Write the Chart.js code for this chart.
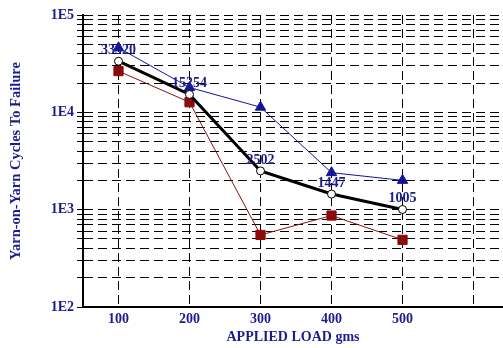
<!DOCTYPE html>
<html>
<head>
<meta charset="utf-8">
<script src="https://cdn.jsdelivr.net/npm/chart.js@4.4.0/dist/chart.umd.min.js"></script>
<style>
  html, body { margin: 0; padding: 0; background: #fff; }
  #wrap { width: 503px; height: 348px; }
</style>
</head>
<body>
<div id="wrap"><canvas id="chart"></canvas></div>
<script>
// --- data ---
const loads = [100, 200, 300, 400, 500];
const meanCycles = [33520, 15254, 2502, 1447, 1005];
const upperCycles = [46000, 18000, 11300, 2400, 2000];
const lowerCycles = [26500, 12700, 550, 870, 490];
const xTicks = [100, 200, 300, 400, 500, 600];
const xLabels = ['100', '200', '300', '400', '500', ''];
const yDecades = [100, 1000, 10000, 100000];
const yLabels = ['1E2', '1E3', '1E4', '1E5'];

const NAVY = '#1c1c8c';
const FONT = '"Liberation Serif", "Times New Roman", serif';

const pairs = vals => loads.map((x, i) => ({ x, y: vals[i] }));

// minor grid lines 2..9 inside every decade
const yTicks = [];
yDecades.forEach((d, i) => {
  yTicks.push(d);
  if (i < yDecades.length - 1) for (let m = 2; m <= 9; m++) yTicks.push(d * m);
});

// labels above the mean line
const pointLabels = {
  id: 'pointLabels',
  afterDatasetsDraw(chart) {
    const ctx = chart.ctx;
    const meta = chart.getDatasetMeta(0);
    ctx.save();
    ctx.font = 'bold 14px ' + FONT;
    ctx.fillStyle = NAVY;
    ctx.textAlign = 'center';
    ctx.textBaseline = 'alphabetic';
    meta.data.forEach((pt, i) => ctx.fillText(String(meanCycles[i]), pt.x, pt.y - 7));
    ctx.restore();
  }
};

new Chart(document.getElementById('chart'), {
  type: 'line',
  data: {
    datasets: [
      {
        label: 'mean',
        data: pairs(meanCycles),
        borderColor: '#000',
        borderWidth: 3,
        pointStyle: 'circle',
        pointRadius: 4,
        pointBackgroundColor: '#fff',
        pointBorderColor: '#000',
        pointBorderWidth: 1
      },
      {
        label: 'upper',
        data: pairs(upperCycles),
        borderColor: '#14149a',
        borderWidth: 1,
        pointStyle: 'triangle',
        pointRadius: 6,
        pointBackgroundColor: '#14149a',
        pointBorderColor: '#14149a'
      },
      {
        label: 'lower',
        data: pairs(lowerCycles),
        borderColor: '#8b1010',
        borderWidth: 1,
        pointStyle: 'rect',
        pointRadius: 6.5,
        pointBackgroundColor: '#8b0a0a',
        pointBorderColor: '#8b0a0a'
      }
    ]
  },
  options: {
    responsive: true,
    maintainAspectRatio: false,
    animation: false,
    layout: { autoPadding: false, padding: { top: 15, left: 0, right: 0, bottom: 0 } },
    plugins: {
      legend: { display: false },
      tooltip: { enabled: false }
    },
    scales: {
      x: {
        type: 'linear',
        min: 50,
        max: 641.5,
        afterBuildTicks: s => { s.ticks = xTicks.map(v => ({ value: v })); },
        afterFit: s => { s.height = 41; s.paddingLeft = 0; s.paddingRight = 0; },
        ticks: {
          color: NAVY,
          font: { family: FONT, size: 14, weight: 'bold' },
          padding: 4,
          maxRotation: 0,
          autoSkip: false,
          callback: (v, i) => xLabels[i]
        },
        grid: { color: '#000', lineWidth: 1, drawTicks: false },
        border: { display: true, color: '#000', width: 2, dash: [9, 5] },
        title: {
          display: true,
          text: 'APPLIED LOAD gms',
          color: NAVY,
          font: { family: FONT, size: 14, weight: 'bold' },
          padding: { top: 2, bottom: 2 }
        }
      },
      y: {
        type: 'logarithmic',
        min: 100,
        max: 100000,
        afterBuildTicks: s => { s.ticks = yTicks.map(v => ({ value: v })); },
        afterFit: s => { s.width = 83; },
        ticks: {
          color: NAVY,
          font: { family: FONT, size: 14, weight: 'bold' },
          padding: 3,
          autoSkip: false,
          callback: v => {
            const k = yDecades.indexOf(v);
            return k >= 0 ? yLabels[k] : '';
          }
        },
        grid: { color: '#000', lineWidth: 1, drawTicks: true, tickLength: 6, tickColor: '#000' },
        border: { display: true, color: '#000', width: 2, dash: [9, 5] },
        title: {
          display: true,
          text: 'Yarn-on-Yarn Cycles To Failure',
          color: NAVY,
          font: { family: FONT, size: 14.5, weight: 'bold' },
          padding: { top: 8, bottom: 0 }
        }
      }
    }
  },
  plugins: [pointLabels]
});
</script>
</body>
</html>
